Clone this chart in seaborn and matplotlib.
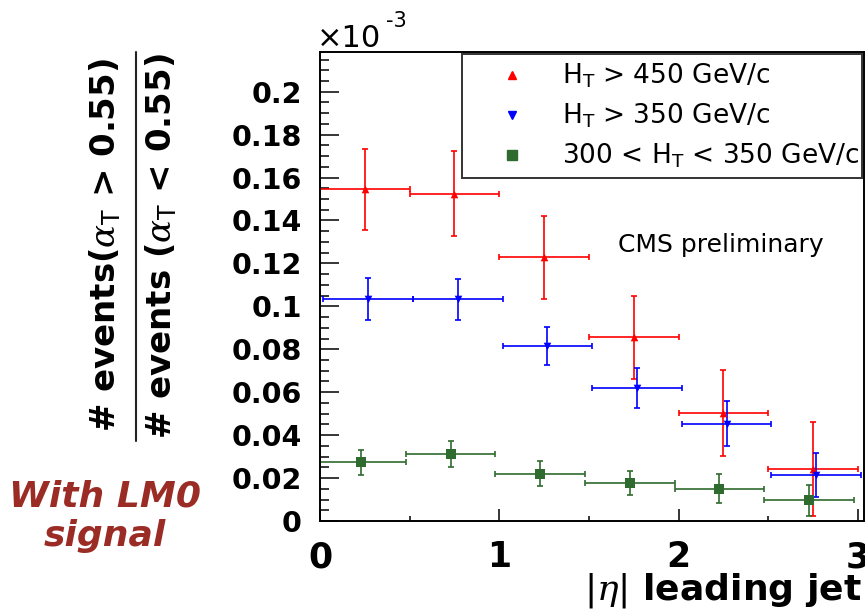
import numpy as np
import pandas as pd
import seaborn as sns
import matplotlib.pyplot as plt
from matplotlib.lines import Line2D
from matplotlib.ticker import MultipleLocator, FuncFormatter

# ratio #events(aT>0.55) / #events(aT<0.55) in bins of leading jet |eta|
series_labels = [r"H$_\mathrm{T}$ > 450 GeV/c",
                 r"H$_\mathrm{T}$ > 350 GeV/c",
                 r"300 < H$_\mathrm{T}$ < 350 GeV/c"]

red_x = [0.25, 0.75, 1.25, 1.75, 2.25, 2.75]
red_y = [0.1545, 0.1525, 0.1228, 0.0855, 0.0502, 0.0243]
red_err = [0.0190, 0.0197, 0.0195, 0.0195, 0.0200, 0.0218]

blue_x = [0.268, 0.768, 1.268, 1.768, 2.268, 2.768]
blue_y = [0.1033, 0.1032, 0.0815, 0.0621, 0.0453, 0.0213]
blue_err = [0.0097, 0.0097, 0.0090, 0.0093, 0.0105, 0.0103]

green_x = [0.228, 0.728, 1.228, 1.728, 2.228, 2.728]
green_y = [0.0273, 0.0312, 0.0220, 0.0177, 0.0151, 0.0096]
green_err = [0.0058, 0.0062, 0.0058, 0.0058, 0.0067, 0.0073]

bin_half_width = 0.25

colors = ["#ff0000", "#0000ff", "#2f6b2f"]
markers = ["^", "v", "s"]
marker_sizes = [30, 30, 44]

sns.set_theme(style="white")
plt.rcParams["font.family"] = ["DejaVu Sans"]
plt.rcParams["text.color"] = "black"
plt.rcParams["xtick.color"] = "black"
plt.rcParams["ytick.color"] = "black"
plt.rcParams["axes.labelcolor"] = "black"
plt.rcParams["mathtext.fontset"] = "custom"
plt.rcParams["mathtext.rm"] = "DejaVu Sans"
plt.rcParams["mathtext.it"] = "DejaVu Serif:italic"
plt.rcParams["mathtext.bf"] = "DejaVu Sans:bold"

frames = []
for lab, xs, ys, es in zip(series_labels, [red_x, blue_x, green_x],
                           [red_y, blue_y, green_y], [red_err, blue_err, green_err]):
    frames.append(pd.DataFrame({"eta": xs, "ratio": ys, "err": es, "series": lab}))
df = pd.concat(frames, ignore_index=True)

fig = plt.figure(figsize=(8.65, 6.1), dpi=100)
ax = fig.add_axes([320 / 865, 89 / 610, 544 / 865, 469 / 610])

for lab, col, mk, ms in zip(series_labels, colors, markers, marker_sizes):
    sub = df[df["series"] == lab]
    ax.errorbar(sub["eta"], sub["ratio"], xerr=bin_half_width, yerr=sub["err"],
                fmt="none", ecolor=col, elinewidth=1.2, capsize=2.5, capthick=1.2)
    sns.scatterplot(data=sub, x="eta", y="ratio", color=col, marker=mk, s=ms,
                    edgecolor=col, linewidth=0, ax=ax, legend=False, zorder=3)

ax.set_xlim(0, 3.034)
ax.set_ylim(0, 0.2185)
ax.set_xlabel("")
ax.set_ylabel("")

ax.xaxis.set_major_locator(MultipleLocator(1))
ax.xaxis.set_minor_locator(MultipleLocator(0.5))
ax.yaxis.set_major_locator(MultipleLocator(0.02))
ax.yaxis.set_minor_locator(MultipleLocator(0.005))
ax.xaxis.set_major_formatter(FuncFormatter(lambda v, p: f"{v:g}"))
ax.yaxis.set_major_formatter(FuncFormatter(lambda v, p: f"{v:g}"))

ax.tick_params(axis="y", which="major", direction="in", length=13.5, width=1.1,
               color="black", pad=13, labelsize=20.5, labelcolor="black")
ax.tick_params(axis="y", which="minor", direction="in", length=6.5, width=1.1, color="black")
ax.tick_params(axis="x", which="major", direction="in", length=8.6, width=1.1,
               color="black", pad=14, labelsize=25, labelcolor="black")
ax.tick_params(axis="x", which="minor", direction="in", length=3.6, width=1.1, color="black")
ax.tick_params(left=True, bottom=True, which="both")
for lbl in ax.get_xticklabels() + ax.get_yticklabels():
    lbl.set_fontweight("bold")
for sp in ax.spines.values():
    sp.set_color("black")
    sp.set_linewidth(1.4)

handles = [Line2D([], [], linestyle="none", marker=mk, color=col, markersize=ms)
           for mk, col, ms in zip(markers, colors, [5.5, 5.5, 6.5])]
leg = ax.legend(handles, series_labels, loc="upper left",
                bbox_to_anchor=(0.261, 0.7, 0.736, 0.296), mode="expand",
                fontsize=19, frameon=True, fancybox=False, borderpad=0.3,
                handlelength=3.2, handletextpad=0.3, labelspacing=0.45,
                borderaxespad=0)
leg.get_frame().set_edgecolor("black")
leg.get_frame().set_linewidth(1.4)
for t in leg.get_texts():
    t.set_color("black")

ax.text(721 / 865, 1 - 245 / 610, "CMS preliminary", transform=fig.transFigure,
        ha="center", va="center", fontsize=18, color="black")

# x10^-3 exponent label
fig.text(317 / 865, 1 - 47 / 610, "\u00d710", fontsize=22, ha="left", va="baseline")
fig.text(386 / 865, 1 - 27 / 610, "-3", fontsize=15, ha="left", va="baseline")

# x axis title
fig.text(862 / 865, 1 - 599 / 610, r"$|\eta|$ leading jet", fontsize=26,
         fontweight="bold", ha="right", va="baseline")

# y axis title as a fraction
fig.text(105 / 865, 1 - 245.5 / 610, r"# events($\alpha_\mathrm{T}$ > 0.55)",
         rotation=90, fontsize=24.5, fontweight="bold", ha="center", va="center")
fig.text(161 / 865, 1 - 246 / 610, r"# events ($\alpha_\mathrm{T}$ < 0.55)",
         rotation=90, fontsize=24.5, fontweight="bold", ha="center", va="center")
fig.add_artist(Line2D([136 / 865, 136 / 865], [1 - 52 / 610, 1 - 441 / 610],
                      transform=fig.transFigure, color="#222222", linewidth=1.5))

fig.text(105 / 865, 1 - 516 / 610, "With LM0\nsignal", fontsize=26,
         fontweight="bold", fontstyle="italic", color="#9a2c25",
         ha="center", va="center", linespacing=1.2)

fig.savefig("out.png", dpi=100)
